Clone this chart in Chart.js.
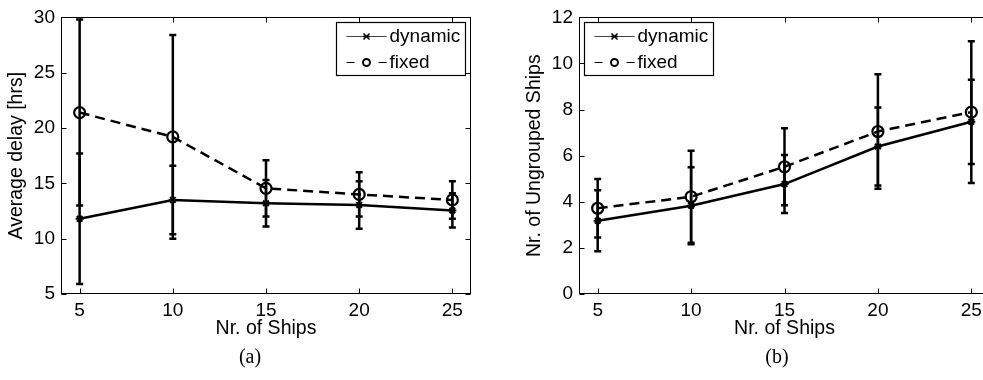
<!DOCTYPE html>
<html>
<head>
<meta charset="utf-8">
<script src="https://cdn.jsdelivr.net/npm/chart.js@4"></script>
<style>
  html, body { margin: 0; padding: 0; background: #fff; overflow: hidden; }
  #wrap { position: relative; width: 983px; height: 380px; overflow: hidden; }
  canvas { position: absolute; top: 0; }
  #chartA { left: 0; }
  #chartB { left: 490px; }
</style>
</head>
<body>
<div id="wrap">
  <canvas id="chartA" width="490" height="380"></canvas>
  <canvas id="chartB" width="510" height="380"></canvas>
</div>
<script>
// Data
const ships = [5, 10, 15, 20, 25];

const delayDynamic = [11.8, 13.5, 13.2, 13.05, 12.55];
const delayDynamicErr = [5.9, 3.1, 2.1, 2.15, 1.55];
const delayFixed = [21.4, 19.2, 14.55, 14.0, 13.5];
const delayFixedErr = [8.4, 9.2, 2.55, 2.0, 1.7];

const ungroupedDynamic = [3.18, 3.83, 4.77, 6.4, 7.47];
const ungroupedDynamicErr = [1.32, 1.67, 1.26, 1.69, 1.83];
const ungroupedFixed = [3.72, 4.22, 5.52, 7.05, 7.89];
const ungroupedFixedErr = [1.27, 2.0, 1.67, 2.48, 3.07];

const seriesLabels = ['dynamic', 'fixed'];

const sansFont = '"Liberation Sans", Arial, Helvetica, sans-serif';
const serifFont = '"Liberation Serif", "DejaVu Serif", serif';

Chart.defaults.font.family = sansFont;
Chart.defaults.color = '#000';

// Vertical error bars with caps, drawn through the scales
const errorBarPlugin = {
    id: 'errorBars',
    afterDatasetsDraw: (chart) => {
        const { ctx, scales: { x, y } } = chart;
        ctx.save();
        ctx.setLineDash([]);
        ctx.strokeStyle = '#000';
        ctx.lineWidth = 2.5;
        chart.data.datasets.forEach((ds) => {
            ds.data.forEach((p, i) => {
                const err = ds.errors[i];
                const px = x.getPixelForValue(p.x);
                const top = y.getPixelForValue(p.y + err);
                const bot = y.getPixelForValue(p.y - err);
                ctx.beginPath();
                ctx.moveTo(px, top); ctx.lineTo(px, bot);
                ctx.moveTo(px - 3.5, top); ctx.lineTo(px + 3.5, top);
                ctx.moveTo(px - 3.5, bot); ctx.lineTo(px + 3.5, bot);
                ctx.stroke();
            });
        });
        ctx.restore();
    }
};

// Box around the plot with inward ticks on all four sides
const framePlugin = {
    id: 'frame',
    afterDatasetsDraw: (chart) => {
        const { ctx, chartArea: a, scales: { x, y } } = chart;
        const L = Math.round(a.left) + 0.5, R = Math.round(a.right) - 0.5;
        const T = Math.round(a.top) + 0.5, B = Math.round(a.bottom) - 0.5;
        ctx.save();
        ctx.setLineDash([]);
        ctx.strokeStyle = '#000';
        ctx.lineWidth = 1;
        ctx.strokeRect(L, T, R - L, B - T);
        ctx.beginPath();
        x.ticks.forEach(t => {
            const px = Math.round(x.getPixelForValue(t.value)) + 0.5;
            ctx.moveTo(px, B); ctx.lineTo(px, B - 5);
            ctx.moveTo(px, T); ctx.lineTo(px, T + 5);
        });
        y.ticks.forEach(t => {
            const py = Math.round(y.getPixelForValue(t.value)) + 0.5;
            ctx.moveTo(L, py); ctx.lineTo(L + 5, py);
            ctx.moveTo(R, py); ctx.lineTo(R - 5, py);
        });
        ctx.stroke();
        ctx.restore();
    }
};

// MATLAB-like legend box inside the axes
const boxLegendPlugin = {
    id: 'boxLegend',
    afterDraw: (chart, args, opts) => {
        const { ctx, chartArea: a } = chart;
        const w = 129, h = 53;
        const bx = Math.round(opts.side === 'left' ? a.left + 5 : a.right - 135) + 0.5;
        const by = Math.round(a.top + 5) + 0.5;
        ctx.save();
        ctx.fillStyle = '#fff';
        ctx.fillRect(bx, by, w, h);
        ctx.strokeStyle = '#000';
        ctx.lineWidth = 1.2;
        ctx.strokeRect(bx, by, w, h);

        // dynamic row
        let ry = by + 14;
        ctx.strokeStyle = '#444';
        ctx.lineWidth = 1;
        ctx.beginPath();
        ctx.moveTo(bx + 10, ry); ctx.lineTo(bx + 50, ry);
        ctx.stroke();
        ctx.strokeStyle = '#000';
        ctx.lineWidth = 1.5;
        ctx.beginPath();
        ctx.moveTo(bx + 27, ry - 3); ctx.lineTo(bx + 33, ry + 3);
        ctx.moveTo(bx + 27, ry + 3); ctx.lineTo(bx + 33, ry - 3);
        ctx.moveTo(bx + 26.5, ry); ctx.lineTo(bx + 33.5, ry);
        ctx.stroke();

        // fixed row
        ry = by + 40;
        ctx.lineWidth = 1;
        ctx.beginPath();
        ctx.moveTo(bx + 10, ry); ctx.lineTo(bx + 18, ry);
        ctx.moveTo(bx + 42, ry); ctx.lineTo(bx + 50, ry);
        ctx.stroke();
        ctx.lineWidth = 2;
        ctx.beginPath();
        ctx.arc(bx + 30, ry, 3.5, 0, Math.PI * 2);
        ctx.stroke();

        ctx.fillStyle = '#000';
        ctx.font = `19px ${sansFont}`;
        ctx.textBaseline = 'middle';
        ctx.textAlign = 'left';
        ctx.fillText(seriesLabels[0], bx + 53, by + 14);
        ctx.fillText(seriesLabels[1], bx + 53, by + 40);
        ctx.restore();
    }
};

// Sub-figure caption "(a)" / "(b)"
const captionPlugin = {
    id: 'caption',
    afterDraw: (chart, args, opts) => {
        const { ctx } = chart;
        ctx.save();
        ctx.fillStyle = '#000';
        ctx.font = `20px ${serifFont}`;
        ctx.textAlign = 'center';
        ctx.textBaseline = 'middle';
        ctx.fillText(opts.text, opts.x, 358);
        ctx.restore();
    }
};

const toPoints = (values) => ships.map((v, i) => ({ x: v, y: values[i] }));

// Build one panel
const createPanel = ({ canvasId, dynamic, dynamicErr, fixed, fixedErr, yMin, yMax, yStep, yTitle, yWidth, yTitlePad, padRight, legendSide, caption, captionX }) => {
    const canvas = document.getElementById(canvasId);
    return new Chart(canvas, {
        type: 'line',
        data: {
            datasets: [{
                label: seriesLabels[0],
                data: toPoints(dynamic),
                errors: dynamicErr,
                borderColor: '#000',
                borderWidth: 2.5,
                pointStyle: 'star',
                pointRadius: 4,
                pointBorderWidth: 2,
                pointBorderColor: '#000',
                pointBackgroundColor: '#000',
                tension: 0
            }, {
                label: seriesLabels[1],
                data: toPoints(fixed),
                errors: fixedErr,
                borderColor: '#000',
                borderWidth: 2.5,
                borderDash: [10, 6],
                pointStyle: 'circle',
                pointRadius: 5.5,
                pointBorderWidth: 2.2,
                pointBorderColor: '#000',
                pointBackgroundColor: 'rgba(0,0,0,0)',
                tension: 0
            }]
        },
        options: {
            responsive: false,
            animation: false,
            events: [],
            layout: { padding: { top: 14, right: padRight, bottom: 40, left: 0 } },
            plugins: {
                legend: { display: false },
                tooltip: { enabled: false },
                boxLegend: { side: legendSide },
                caption: { text: caption, x: captionX }
            },
            scales: {
                x: {
                    type: 'linear',
                    min: 4,
                    max: 26,
                    afterBuildTicks: (s) => { s.ticks = ships.map(v => ({ value: v })); },
                    afterFit: (s) => { s.height = 46; },
                    grid: { display: false, drawTicks: false, tickLength: 0 },
                    border: { display: false },
                    ticks: { color: '#000', font: { size: 19 }, padding: 5, maxRotation: 0 },
                    title: { display: true, text: 'Nr. of Ships', color: '#000', font: { size: 19.5 }, padding: { top: 0, bottom: 0 } }
                },
                y: {
                    min: yMin,
                    max: yMax,
                    afterFit: (s) => { s.width = yWidth; },
                    grid: { display: false, drawTicks: false, tickLength: 0 },
                    border: { display: false },
                    ticks: { stepSize: yStep, color: '#000', font: { size: 19 }, padding: 6 },
                    title: { display: true, text: yTitle, color: '#000', font: { size: 19.5 }, padding: { top: yTitlePad, bottom: 0 } }
                }
            }
        },
        plugins: [errorBarPlugin, framePlugin, boxLegendPlugin, captionPlugin]
    });
};

createPanel({
    canvasId: 'chartA',
    dynamic: delayDynamic, dynamicErr: delayDynamicErr,
    fixed: delayFixed, fixedErr: delayFixedErr,
    yMin: 5, yMax: 30, yStep: 5,
    yTitle: 'Average delay [hrs]', yWidth: 61, yTitlePad: 5, padRight: 19,
    legendSide: 'right', caption: '(a)', captionX: 250
});

createPanel({
    canvasId: 'chartB',
    dynamic: ungroupedDynamic, dynamicErr: ungroupedDynamicErr,
    fixed: ungroupedFixed, fixedErr: ungroupedFixedErr,
    yMin: 0, yMax: 12, yStep: 2,
    yTitle: 'Nr. of Ungrouped Ships', yWidth: 89, yTitlePad: 33, padRight: 10,
    legendSide: 'left', caption: '(b)', captionX: 287
});
</script>
</body>
</html>
